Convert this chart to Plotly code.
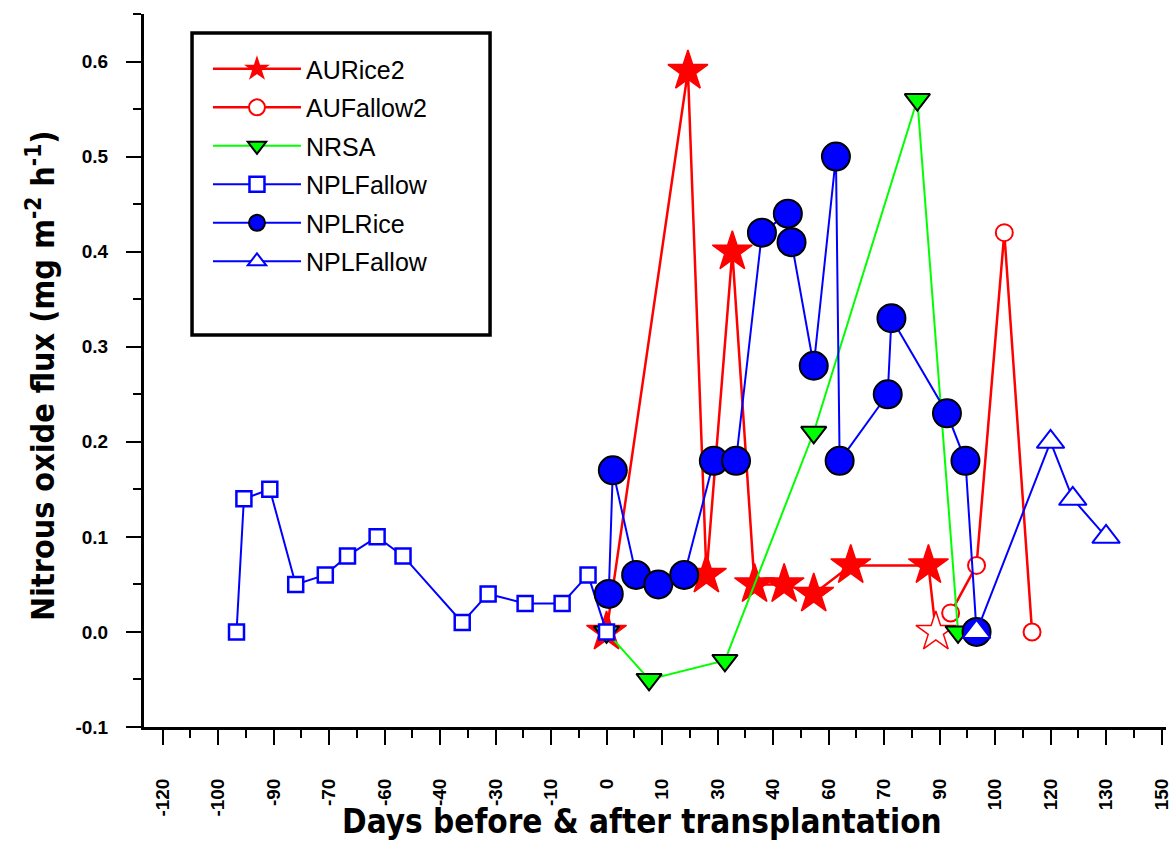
import plotly.graph_objects as go

# ---------------- data ----------------
au_rice2_x = [0, 22, 27, 34, 40, 48, 56, 66, 87, 89]
au_rice2_y = [0.0, 0.59, 0.06, 0.40, 0.05, 0.05, 0.04, 0.07, 0.07, 0.0]

au_fallow2_x = [93, 100, 107.5, 115]
au_fallow2_y = [0.02, 0.07, 0.42, 0.0]

nrsa_x = [0, 11.5, 32, 56, 84, 95]
nrsa_y = [0.0, -0.05, -0.03, 0.21, 0.56, 0.0]

npl_fallow_x = [-100, -98, -91, -84, -76, -70, -62, -55, -39, -32, -22, -12, -5, 0]
npl_fallow_y = [0.0, 0.14, 0.15, 0.05, 0.06, 0.08, 0.10, 0.08, 0.01, 0.04, 0.03, 0.03, 0.06, 0.0]

npl_rice_x = [0.6, 1.7, 8, 14, 21, 29, 35, 42, 49, 50, 56, 62, 63, 76, 77, 92, 97, 100]
npl_rice_y = [0.04, 0.17, 0.06, 0.05, 0.06, 0.18, 0.18, 0.42, 0.44, 0.41, 0.28, 0.50, 0.18,
              0.25, 0.33, 0.23, 0.18, 0.0]

npl_fallow2_x = [100, 120, 126, 135]
npl_fallow2_y = [0.0, 0.20, 0.14, 0.10]

x_tick_vals = [-120, -105, -90, -75, -60, -45, -30, -15, 0, 15, 30, 45, 60, 75, 90, 105, 120, 135, 150]
x_tick_text = ["-120", "-100", "-90", "-70", "-60", "-40", "-30", "-10", "0", "10", "30", "40",
               "60", "70", "90", "100", "120", "130", "150"]
x_minor_vals = [-112.5, -97.5, -82.5, -67.5, -52.5, -37.5, -22.5, -7.5, 7.5, 22.5, 37.5, 52.5,
                67.5, 82.5, 97.5, 112.5, 127.5, 142.5]
y_tick_vals = [-0.1, 0.0, 0.1, 0.2, 0.3, 0.4, 0.5, 0.6]
y_tick_text = ["-0.1", "0.0", "0.1", "0.2", "0.3", "0.4", "0.5", "0.6"]
y_minor_vals = [-0.05, 0.05, 0.15, 0.25, 0.35, 0.45, 0.55, 0.65]

RED = "#ff0000"
GREEN = "#00ff00"
BLUE = "#0000ff"

fig = go.Figure()

# AURice2 - filled red stars (last point drawn open)
star_fill = [RED] * (len(au_rice2_x) - 1) + ["white"]
fig.add_trace(go.Scatter(
    x=au_rice2_x, y=au_rice2_y, mode="lines+markers", name="AURice2", legendgroup="g1",
    line=dict(color=RED, width=2.5),
    marker=dict(symbol="star", size=30, color=star_fill, line=dict(color=RED, width=1.5)),
))
# AUFallow2 - open red circles
fig.add_trace(go.Scatter(
    x=au_fallow2_x, y=au_fallow2_y, mode="lines+markers", name="AUFallow2", legendgroup="g2",
    line=dict(color=RED, width=2.5),
    marker=dict(symbol="circle", size=17, color="white", line=dict(color=RED, width=2)),
))
# NRSA - green down triangles
fig.add_trace(go.Scatter(
    x=nrsa_x, y=nrsa_y, mode="lines+markers", name="NRSA", legendgroup="g3",
    line=dict(color=GREEN, width=2),
    marker=dict(symbol="triangle-down", size=22, color=GREEN, line=dict(color="black", width=2)),
))
# NPLFallow - open blue squares
fig.add_trace(go.Scatter(
    x=npl_fallow_x, y=npl_fallow_y, mode="lines+markers", name="NPLFallow", legendgroup="g4",
    line=dict(color=BLUE, width=2),
    marker=dict(symbol="square", size=15, color="white", line=dict(color=BLUE, width=2.5)),
))
# NPLRice - filled blue circles, black outline
fig.add_trace(go.Scatter(
    x=npl_rice_x, y=npl_rice_y, mode="lines+markers", name="NPLRice", legendgroup="g5",
    line=dict(color=BLUE, width=2),
    marker=dict(symbol="circle", size=28, color=BLUE, line=dict(color="black", width=2)),
))
# NPLFallow (second) - open blue triangles
fig.add_trace(go.Scatter(
    x=npl_fallow2_x, y=npl_fallow2_y, mode="lines+markers", name="NPLFallow", legendgroup="g6",
    line=dict(color=BLUE, width=2),
    marker=dict(symbol="triangle-up", size=24, color="white", line=dict(color=BLUE, width=2)),
))

TICK_FONT = dict(family="Liberation Sans, Arial, sans-serif", size=19, color="black", weight="bold")
TITLE_FAMILY = "Liberation Sans Narrow, Arial Narrow, DejaVu Sans Condensed, Liberation Sans, sans-serif"

fig.update_layout(
    width=1173, height=841,
    margin=dict(l=144, r=7, t=14, b=114),
    paper_bgcolor="white", plot_bgcolor="white",
    showlegend=True,
    legend=dict(
        x=0.0626, y=0.955, xanchor="left", yanchor="top",
        bgcolor="rgba(0,0,0,0)", borderwidth=0,
        font=dict(family="Liberation Sans, Arial, sans-serif", size=25, color="black"),
        itemwidth=88, tracegroupgap=3, traceorder="grouped",
    ),
    xaxis=dict(
        range=[-125, 151.2], showgrid=False, zeroline=False, automargin=False,
        showline=True, linecolor="black", linewidth=3,
        tickmode="array", tickvals=x_tick_vals, ticktext=x_tick_text,
        ticks="outside", ticklen=15, tickwidth=2, tickcolor="black",
        tickangle=-90, tickfont=TICK_FONT, ticklabelstandoff=26,
        ticklabeloverflow="allow",
        minor=dict(tickvals=x_minor_vals, ticks="outside", ticklen=8, tickwidth=2, tickcolor="black"),
    ),
    yaxis=dict(
        range=[-0.1, 0.65], showgrid=False, zeroline=False, automargin=False,
        showline=True, linecolor="black", linewidth=3,
        tickmode="array", tickvals=y_tick_vals, ticktext=y_tick_text,
        ticks="outside", ticklen=15, tickwidth=2, tickcolor="black",
        tickfont=TICK_FONT, ticklabelstandoff=14,
        minor=dict(tickvals=y_minor_vals, ticks="outside", ticklen=8, tickwidth=2, tickcolor="black"),
    ),
    shapes=[dict(type="rect", xref="paper", yref="paper",
                 x0=0.047, x1=0.3386, y0=0.5498, y1=0.9734,
                 line=dict(color="black", width=3.5), fillcolor="rgba(0,0,0,0)", layer="above")],
    annotations=[
        dict(text="<b>Days before & after transplantation</b>", xref="paper", yref="paper",
             x=(642 - 144) / 1022, y=-(821 - 727) / 713, xanchor="center", yanchor="middle",
             showarrow=False, font=dict(family=TITLE_FAMILY, size=33, color="black")),
        dict(text="<b>Nitrous oxide flux (mg m<sup>-2</sup> h<sup>-1</sup>)</b>", xref="paper", yref="paper",
             x=-(144 - 41) / 1022, y=1 - (376 - 14) / 713, xanchor="center", yanchor="middle",
             textangle=-90, showarrow=False, font=dict(family=TITLE_FAMILY, size=32, color="black")),
    ],
)

fig.write_html("out.html", config={"displayModeBar": False},
               post_script="document.body.style.margin='0';document.body.style.padding='0';")
